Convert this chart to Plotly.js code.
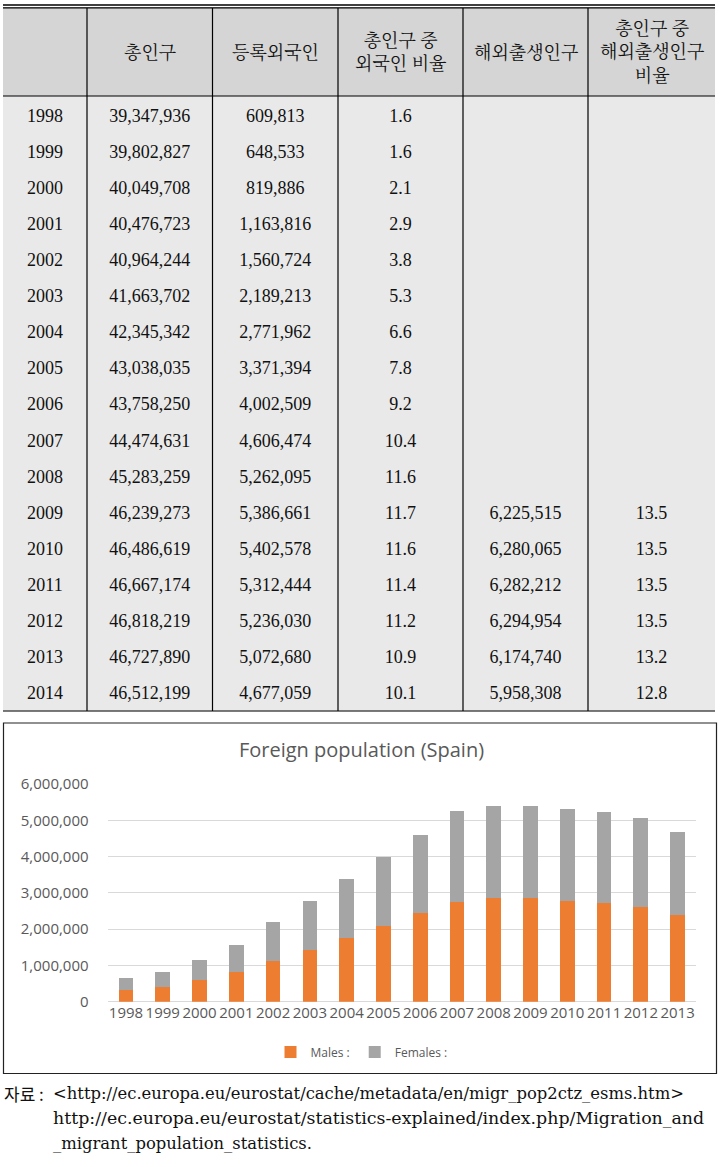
<!DOCTYPE html>
<html><head><meta charset="utf-8">
<script src="https://cdn.plot.ly/plotly-3.0.1.min.js"></script>
<style>html,body{margin:0;padding:0;background:#fff;}</style>
</head><body><div id="chart" style="width:723px;height:1167px;"></div>
<script>
// ---- table data ----
const headers = ['', '총인구', '등록외국인', '총인구 중<br>외국인 비율', '해외출생인구', '총인구 중<br>해외출생인구<br>비율'];
const years = ['1998','1999','2000','2001','2002','2003','2004','2005','2006','2007','2008','2009','2010','2011','2012','2013','2014'];
const totalPop = [39347936, 39802827, 40049708, 40476723, 40964244, 41663702, 42345342, 43038035, 43758250, 44474631, 45283259, 46239273, 46486619, 46667174, 46818219, 46727890, 46512199];
const registeredForeign = [609813, 648533, 819886, 1163816, 1560724, 2189213, 2771962, 3371394, 4002509, 4606474, 5262095, 5386661, 5402578, 5312444, 5236030, 5072680, 4677059];
const foreignShare = [1.6, 1.6, 2.1, 2.9, 3.8, 5.3, 6.6, 7.8, 9.2, 10.4, 11.6, 11.7, 11.6, 11.4, 11.2, 10.9, 10.1];
const foreignBorn = [null, null, null, null, null, null, null, null, null, null, null, 6225515, 6280065, 6282212, 6294954, 6174740, 5958308];
const foreignBornShare = [null, null, null, null, null, null, null, null, null, null, null, 13.5, 13.5, 13.5, 13.5, 13.2, 12.8];

// ---- chart data ----
const chartTitle = 'Foreign population (Spain)';
const chartYears = ['1998','1999','2000','2001','2002','2003','2004','2005','2006','2007','2008','2009','2010','2011','2012','2013'];
const males = [330000, 420000, 600000, 810000, 1130000, 1420000, 1750000, 2100000, 2440000, 2760000, 2870000, 2860000, 2790000, 2730000, 2620000, 2380000];
const females = [318533, 399886, 563816, 750724, 1059213, 1351962, 1621394, 1902509, 2166474, 2502095, 2516661, 2542578, 2522444, 2506030, 2452680, 2297059];
const seriesNames = ['Males :', 'Females :'];
const yTicks = [0, 1000000, 2000000, 3000000, 4000000, 5000000, 6000000];

const sourceLabel = '자료 :';
const sourceLines = ['&lt;http://ec.europa.eu/eurostat/cache/metadata/en/migr_pop2ctz_esms.htm&gt;',
  'http://ec.europa.eu/eurostat/statistics-explained/index.php/Migration_and',
  '_migrant_population_statistics.'];

// ---- helpers ----
const W = 723, H = 1167;
const px = x => x / W;
const py = y => 1 - y / H;
const fmtInt = v => v == null ? '' : v.toLocaleString('en-US');
const fmt1 = v => v == null ? '' : v.toFixed(1);

const colEdges = [3, 87, 212.5, 338, 463, 588, 715];
const colWidths = colEdges.slice(1).map((e, i) => e - colEdges[i]);

const tableFont = 'Liberation Serif, Noto Serif CJK KR, Noto Sans CJK KR, serif';
const headerFill = '#d5d5d5';
const bodyFill = '#e9e9e9';

const tableTrace = {
  type: 'table',
  domain: {x: [px(3), px(715)], y: [py(717), py(12)]},
  columnwidth: colWidths,
  header: {
    values: headers.map(() => ''),
    height: 88,
    fill: {color: headerFill},
    line: {width: 0, color: headerFill}
  },
  cells: {
    values: [years, totalPop.map(fmtInt), registeredForeign.map(fmtInt), foreignShare.map(fmt1), foreignBorn.map(fmtInt), foreignBornShare.map(fmt1)],
    height: 36.12,
    align: 'center',
    fill: {color: bodyFill},
    line: {width: 0, color: bodyFill},
    font: {family: tableFont, size: 18, color: '#111'}
  },
  hoverinfo: 'skip'
};

const maleTrace = {
  type: 'bar', x: chartYears, y: males, name: seriesNames[0],
  marker: {color: '#ed7d31'}, xaxis: 'x', yaxis: 'y'
};
const femaleTrace = {
  type: 'bar', x: chartYears, y: females, name: seriesNames[1],
  marker: {color: '#a5a5a5'}, xaxis: 'x', yaxis: 'y'
};

// shapes: table rules and chart frame
const shapes = [];
const rect = (x0, x1, y0, y1, fill) => shapes.push({type: 'rect', xref: 'paper', yref: 'paper', x0: px(x0), x1: px(x1), y0: py(y1), y1: py(y0), line: {width: 0}, fillcolor: fill});
rect(3, 715, 7, 12.5, headerFill);
rect(3, 715, 96, 100.5, bodyFill);
rect(0, 723, 711.5, 719, '#ffffff');
const hline = (y, x0, x1, w) => shapes.push({type: 'line', xref: 'paper', yref: 'paper', x0: px(x0), x1: px(x1), y0: py(y), y1: py(y), line: {color: '#000', width: w}});
hline(5, 3, 715, 1.3);
hline(7.8, 3, 715, 1.3);
hline(96, 3, 715, 1.2);
hline(711, 3, 715, 1.2);
colEdges.slice(1, -1).forEach(x => shapes.push({type: 'line', xref: 'paper', yref: 'paper', x0: px(x), x1: px(x), y0: py(8), y1: py(711), line: {color: '#000', width: 1.2}}));
shapes.push({type: 'rect', xref: 'paper', yref: 'paper', x0: px(3.5), x1: px(716.5), y0: py(723), y1: py(1073.5), line: {color: '#222', width: 1.2}, fillcolor: 'rgba(0,0,0,0)'});

// header annotations
const annotations = [];
headers.forEach((h, i) => {
  if (!h) return;
  annotations.push({
    xref: 'paper', yref: 'paper', x: px((colEdges[i] + colEdges[i + 1]) / 2), y: py(52),
    xanchor: 'center', yanchor: 'middle', text: h, showarrow: false, align: 'center',
    font: {family: tableFont, size: 18, color: '#111'}
  });
});
// source annotations
const srcSizes = [16.4, 17.4, 16.4];
annotations.push({xref: 'paper', yref: 'paper', x: px(2), y: py(1093), xanchor: 'left', yanchor: 'middle', text: sourceLabel, showarrow: false, font: {family: 'Noto Sans CJK KR', size: 17, color: '#111'}});
sourceLines.forEach((t, i) => annotations.push({
  xref: 'paper', yref: 'paper', x: px(51), y: py(1093 + 25 * i), xanchor: 'left', yanchor: 'middle',
  text: t, showarrow: false, font: {family: 'DejaVu Serif, Liberation Serif, serif', size: srcSizes[i], color: '#111'}
}));

const layout = {
  width: W, height: H,
  margin: {l: 0, r: 0, t: 0, b: 0},
  paper_bgcolor: '#fff', plot_bgcolor: '#fff',
  barmode: 'stack', bargap: 0.6,
  title: {text: chartTitle, x: 0.5, xanchor: 'center', xref: 'paper', y: py(750), yanchor: 'middle', yref: 'paper',
          font: {family: 'Open Sans, sans-serif', size: 20, color: '#595959'}},
  xaxis: {domain: [px(107.6), px(696)], type: 'category', tickangle: 0, showgrid: false, showline: false, ticks: '',
          tickfont: {family: 'Open Sans, sans-serif', size: 15, color: '#595959'}, fixedrange: true},
  yaxis: {domain: [py(1001.8), py(784)], range: [0, 6000000], tickvals: yTicks, tickformat: ',', showgrid: true,
          gridcolor: '#d9d9d9', gridwidth: 1, zeroline: true, zerolinecolor: '#d9d9d9', zerolinewidth: 1, showline: false, ticks: '',
          ticklabelstandoff: 18, tickfont: {family: 'Open Sans, sans-serif', size: 15, color: '#595959'}, fixedrange: true},
  showlegend: true,
  legend: {orientation: 'h', x: 0.5, xanchor: 'center', y: py(1052), yanchor: 'middle', traceorder: 'normal',
           font: {family: 'Open Sans, sans-serif', size: 12, color: '#595959'}, bgcolor: 'rgba(0,0,0,0)'},
  shapes: shapes,
  annotations: annotations
};

Plotly.newPlot('chart', [tableTrace, maleTrace, femaleTrace], layout, {displayModeBar: false, staticPlot: true});
</script>
</body></html>
